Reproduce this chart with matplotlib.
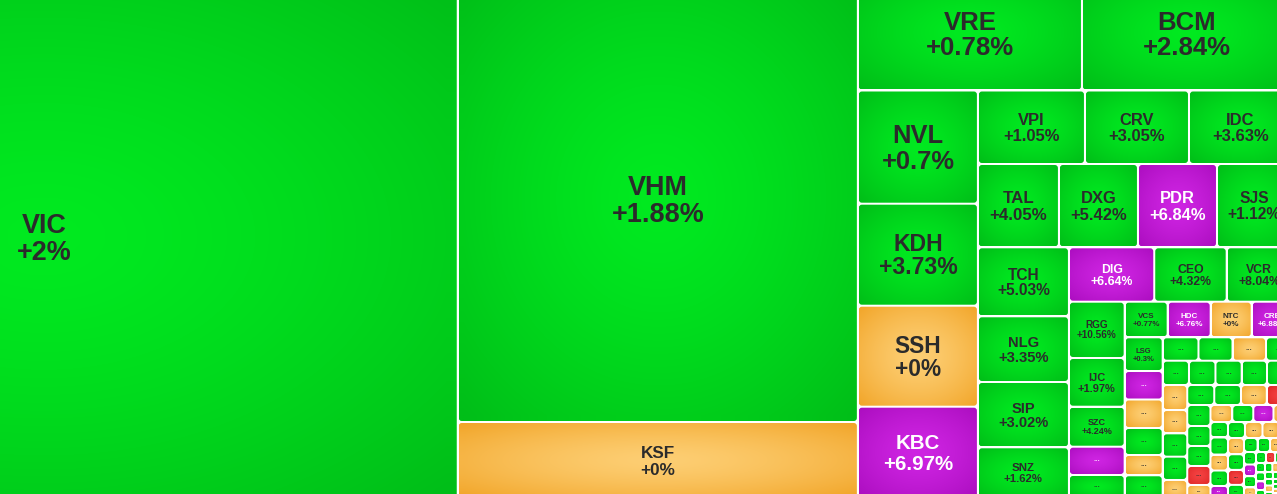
import numpy as np
import matplotlib.pyplot as plt
from matplotlib.patches import FancyBboxPatch

# The picture is a crop of a wider treemap; this is the treemap's frame in
# screen pixels (left, top, right, bottom), the visible window is 1277 x 494.
FRAME = (-370, -24, 1292, 498)
VIEW_W, VIEW_H = 1277, 494

# ---- data (tile order = treemap order) ------------------------------------
tickers = [
    "VIC",
    "VHM", "KSF",
    "VRE", "BCM",
    "NVL", "KDH", "SSH", "KBC",
    "VPI", "CRV", "IDC",
    "TAL", "DXG", "PDR", "SJS",
    "TCH", "NLG", "SIP", "SNZ",
    "DIG", "CEO", "VCR",
    "RGG", "IJC", "SZC", None, None,
    "VCS", "HDC", "NTC", "CRE",
    "LSG", None, None, None, None, None,
] + [None] * 76

changes = [
    "+2%",
    "+1.88%", "+0%",
    "+0.78%", "+2.84%",
    "+0.7%", "+3.73%", "+0%", "+6.97%",
    "+1.05%", "+3.05%", "+3.63%",
    "+4.05%", "+5.42%", "+6.84%", "+1.12%",
    "+5.03%", "+3.35%", "+3.02%", "+1.62%",
    "+6.64%", "+4.32%", "+8.04%",
    "+10.56%", "+1.97%", "+4.24%", None, None,
    "+0.77%", "+6.76%", "+0%", "+6.88%",
    "+0.3%", None, None, None, None, None,
] + [None] * 76

# up / ref (unchanged) / ceil (ceiling price) / down
status = [
    "up",
    "up", "ref",
    "up", "up",
    "up", "up", "ref", "ceil",
    "up", "up", "up",
    "up", "up", "ceil", "up",
    "up", "up", "up", "up",
    "ceil", "up", "up",
    "up", "up", "up", "ceil", "up",
    "up", "ceil", "ref", "ceil",
    "up", "ceil", "ref", "up", "ref", "up",
    "up", "up", "ref", "up",
    "up", "up", "up", "up", "up",
    "ref", "ref", "up", "up", "ref",
    "up", "up", "ref", "down",
    "up", "up", "up", "down", "ref",
    "ref", "up", "ceil", "ref",
    "up", "up", "ref", "up", "ceil",
    "up", "ref", "ref", "up",
    "ref", "up", "down", "up",
    "up", "up", "ref", "up",
    "up", "ceil", "up", "ref",
    "up", "down", "up", "ref",
    "up", "up", "ceil", "up",
    "up", "ref", "up", "up",
    "up", "up", "ref", "up",
    "up", "ref", "up", "up",
    "up", "up", "ref", "up",
    "up", "down", "up", "up",
]

sizes = [
    431955,
    178400, 30400,
    25648, 24045,
    13584, 12240, 12120, 10956,
    7865, 7644, 7571,
    6747, 6581, 6581, 6248,
    6279, 5979, 5942, 4614,
    4640, 3939, 3552,
    3136, 2713, 2228, 1576, 1281,
    1531, 1531, 1460, 1435,
    1281, 1083, 1083, 1026, 771, 863,
    838, 796, 784, 608,
    639, 644, 637, 615, 608,
    615, 573, 573, 573, 443,
    540, 534, 516, 504,
    487, 464, 464, 441, 302,
    371, 357, 343, 315,
    271, 298, 280, 271, 210,
    272, 280, 272, 200,
    260, 250, 240, 210,
    190, 175, 165, 142,
    150, 140, 135, 127,
    110, 100, 96, 90,
    85, 80, 78, 72,
    66, 62, 60, 55,
    56, 52, 52, 48,
    36, 34, 33, 30,
    50, 48, 46, 45,
    44, 44, 42, 42,
]

# squarify strips: how many tiles each strip holds, and its direction
# ("v" = column on the left, "h" = row on top of what is left)
strip_counts = [1, 2, 2, 4, 3, 4, 4, 3, 5, 4, 6,
                4, 5, 5, 4, 5, 4, 5, 4, 4, 4, 4, 4, 4, 4, 4, 4, 4, 4]
strip_dirs = ["v", "v", "h", "v", "h", "h", "v", "h", "v", "h", "v",
              "h", "h", "v", "h", "v", "h", "v", "h", "v", "h", "v", "h",
              "v", "h", "v", "h", "v", "v"]

PALETTE = {
    "up": ((0, 234, 32), (0, 190, 24)),
    "ref": ((253, 206, 115), (242, 166, 42)),
    "ceil": ((206, 36, 226), (172, 14, 192)),
    "down": ((244, 66, 66), (222, 38, 38)),
}
TEXT_DARK = "#2b2b2b"
FONT = ["Liberation Sans", "DejaVu Sans"]


def strip_layout(values, counts, dirs, x0, y0, x1, y1):
    rects = []
    left = float(sum(values))
    i = 0
    for n, d in zip(counts, dirs):
        chunk = values[i:i + n]
        s = float(sum(chunk))
        if d == "v":
            w = (x1 - x0) * s / left
            y = y0
            for v in chunk:
                h = (y1 - y0) * v / s
                rects.append((x0, y, w, h))
                y += h
            x0 += w
        else:
            h = (y1 - y0) * s / left
            x = x0
            for v in chunk:
                w = (x1 - x0) * v / s
                rects.append((x, y0, w, h))
                x += w
            y0 += h
        left -= s
        i += n
    return rects


yy, xx = np.mgrid[-1:1:40j, -1:1:40j]
RAMP = np.clip(np.sqrt(xx ** 2 + yy ** 2) / np.sqrt(2), 0, 1) ** 1.4


def shade(kind):
    c0, c1 = (np.array(c) / 255.0 for c in PALETTE[kind])
    return c0 + (c1 - c0) * RAMP[..., None]


fig = plt.figure(figsize=(VIEW_W / 100, VIEW_H / 100), dpi=100)
fig.patch.set_facecolor("white")
ax = fig.add_axes([0, 0, 1, 1])
ax.set_facecolor("white")

rects = strip_layout(sizes, strip_counts, strip_dirs, *FRAME)
images = {k: shade(k) for k in PALETTE}

for (x, y, w, h), tk, ch, st in zip(rects, tickers, changes, status):
    bx, by, bw, bh = x + 1, y + 1, w - 2, h - 2
    if bw <= 0.5 or bh <= 0.5:
        continue
    r = min(3.0, bw / 4, bh / 4)
    box = FancyBboxPatch((bx, by), bw, bh,
                         boxstyle=f"round,pad=0,rounding_size={r}",
                         facecolor="none", edgecolor="none")
    ax.add_patch(box)
    im = ax.imshow(images[st], extent=(bx, bx + bw, by + bh, by),
                   interpolation="bilinear", aspect="auto", zorder=1)
    im.set_clip_path(box)

    color = "white" if st == "ceil" else TEXT_DARK
    cx, cy = x + w / 2, y + h / 2
    short = min(w, h)
    if tk is not None and short >= 31:
        n_chars = max(len(tk), len(ch))
        em = min(27.0, 0.225 * short, 0.75 * w / (0.6 * n_chars))
        cap = 0.716 * em
        for text, yc in ((tk, cy - em / 2), (ch, cy + em / 2)):
            ax.text(cx, yc + cap / 2, text, ha="center", va="baseline",
                    fontsize=em * 0.72, fontweight="bold", family=FONT,
                    color=color, zorder=3, clip_on=True)
    elif short >= 9:
        em = min(8.0, 0.4 * short)
        ax.text(cx, cy + 0.08 * em, "...", ha="center", va="baseline",
                fontsize=em * 0.72, fontweight="bold", family=FONT,
                color=color, zorder=3, clip_on=True)

ax.set_xlim(0, VIEW_W)
ax.set_ylim(VIEW_H, 0)
ax.axis("off")
fig.savefig("out.png", dpi=100, facecolor="white")
